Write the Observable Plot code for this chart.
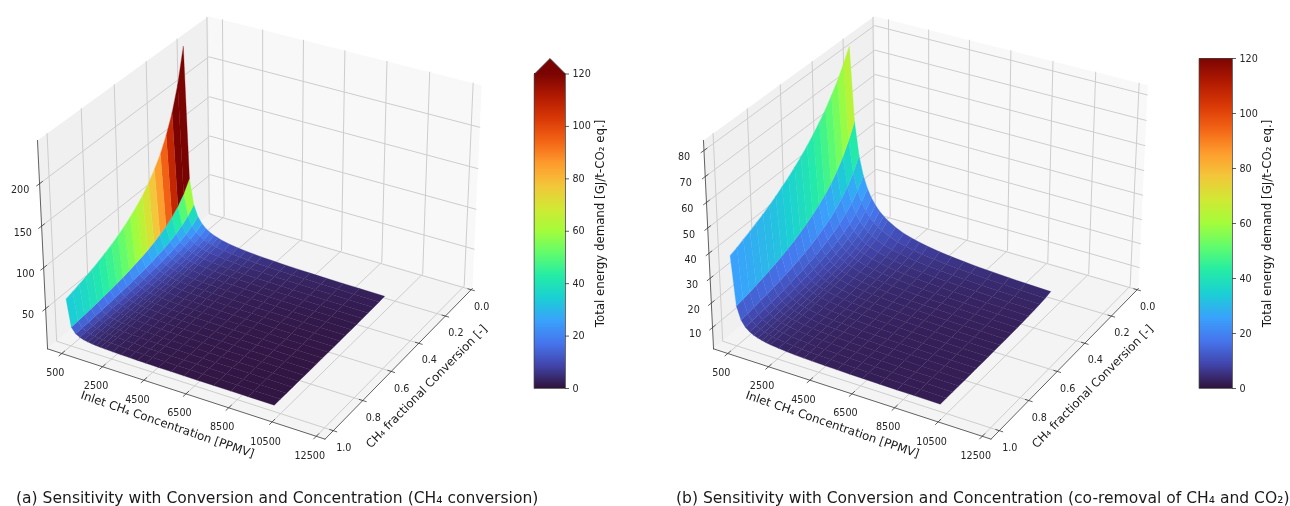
<!DOCTYPE html>
<html><head><meta charset="utf-8">
<script src="https://cdn.jsdelivr.net/npm/d3@7"></script>
<script src="https://cdn.jsdelivr.net/npm/@observablehq/plot@0.6"></script>
<style>html,body{margin:0;padding:0;background:#fff}svg{display:block;filter:blur(.35px)}</style>
</head><body><div id="c"></div>
<script>
const concentrations=[100,302,504,706,908,1110,1312,1514,1716,1918,2322,2726,3130,3534,3938,4544,5150,5756,6362,7170,7978,8786,10000];
const conversions=[.2,.241,.281,.322,.362,.403,.443,.484,.524,.565,.605,.646,.686,.727,.767,.808,.848,.889,.929,.97];
const zA=[
[243,80.5,48.2,34.4,26.8,21.9,18.5,16.1,14.2,12.7,10.5,8.92,7.77,6.88,6.17,5.35,4.72,4.22,3.82,3.39,3.05,2.77,2.43],
[202,66.8,40,28.6,22.2,18.2,15.4,13.3,11.8,10.5,8.68,7.4,6.44,5.7,5.12,4.44,3.92,3.5,3.17,2.81,2.53,2.29,2.02],
[173,57.3,34.3,24.5,19,15.6,13.2,11.4,10.1,9.02,7.45,6.35,5.53,4.89,4.39,3.81,3.36,3,2.72,2.41,2.17,1.97,1.73],
[151,50,30,21.4,16.6,13.6,11.5,9.97,8.8,7.87,6.5,5.54,4.82,4.27,3.83,3.32,2.93,2.62,2.37,2.11,1.89,1.72,1.51],
[134,44.4,26.6,19,14.8,12.1,10.2,8.87,7.82,7,5.78,4.92,4.29,3.8,3.41,2.96,2.61,2.33,2.11,1.87,1.68,1.53,1.34],
[121,39.9,23.9,17.1,13.3,10.9,9.19,7.96,7.03,6.29,5.19,4.42,3.85,3.41,3.06,2.65,2.34,2.09,1.9,1.68,1.51,1.37,1.21],
[110,36.3,21.8,15.5,12.1,9.88,8.36,7.24,6.39,5.72,4.72,4.02,3.51,3.1,2.79,2.41,2.13,1.9,1.72,1.53,1.37,1.25,1.1],
[100,33.2,19.9,14.2,11.1,9.05,7.65,6.63,5.85,5.24,4.32,3.68,3.21,2.84,2.55,2.21,1.95,1.74,1.58,1.4,1.26,1.14,1],
[92.7,30.7,18.4,13.1,10.2,8.35,7.07,6.12,5.4,4.83,3.99,3.4,2.96,2.62,2.35,2.04,1.8,1.61,1.46,1.29,1.16,1.06,.93],
[86,28.5,17.1,12.2,9.47,7.75,6.56,5.68,5.01,4.49,3.7,3.16,2.75,2.43,2.18,1.89,1.67,1.49,1.35,1.2,1.08,.98,.86],
[80.3,26.6,15.9,11.4,8.85,7.24,6.12,5.31,4.68,4.19,3.46,2.95,2.57,2.27,2.04,1.77,1.56,1.4,1.26,1.12,1.01,.91,.8],
[75.2,24.9,14.9,10.7,8.28,6.78,5.73,4.97,4.38,3.92,3.24,2.76,2.4,2.13,1.91,1.66,1.46,1.31,1.18,1.05,.94,.86,.75],
[70.9,23.5,14.1,10,7.8,6.38,5.4,4.68,4.13,3.69,3.05,2.6,2.26,2,1.8,1.56,1.38,1.23,1.11,.99,.89,.81,.71],
[66.9,22.1,13.3,9.47,7.36,6.02,5.1,4.42,3.9,3.49,2.88,2.45,2.14,1.89,1.7,1.47,1.3,1.16,1.05,.93,.84,.76,.67],
[63.4,21,12.6,8.98,6.98,5.71,4.83,4.19,3.69,3.3,2.73,2.33,2.03,1.79,1.61,1.4,1.23,1.1,1,.88,.79,.72,.63],
[60.2,19.9,11.9,8.52,6.63,5.42,4.59,3.97,3.51,3.14,2.59,2.21,1.92,1.7,1.53,1.32,1.17,1.04,.95,.84,.75,.68,.6],
[57.3,19,11.4,8.12,6.31,5.16,4.37,3.78,3.34,2.99,2.47,2.1,1.83,1.62,1.45,1.26,1.11,1,.9,.8,.72,.65,.57],
[54.7,18.1,10.8,7.74,6.02,4.93,4.17,3.61,3.19,2.85,2.35,2.01,1.75,1.55,1.39,1.2,1.06,.95,.86,.76,.69,.62,.55],
[52.3,17.3,10.4,7.41,5.76,4.71,3.99,3.45,3.05,2.73,2.25,1.92,1.67,1.48,1.33,1.15,1.02,.91,.82,.73,.66,.6,.52],
[50.1,16.6,9.94,7.1,5.52,4.51,3.82,3.31,2.92,2.61,2.16,1.84,1.6,1.42,1.27,1.1,.97,.87,.79,.7,.63,.57,.5]];
const zB=[
[81.5,51.5,37.8,30,25,21.4,18.8,16.8,15.2,13.9,11.9,10.4,9.35,8.49,7.79,6.97,6.33,5.82,5.41,4.96,4.6,4.3,3.95],
[76.2,45.6,32.7,25.6,21.2,18.1,15.8,14.1,12.8,11.7,10,8.79,7.88,7.17,6.59,5.92,5.39,4.97,4.64,4.27,3.98,3.74,3.44],
[71.4,40.8,28.8,22.4,18.4,15.7,13.7,12.2,11,10.1,8.65,7.62,6.85,6.24,5.75,5.18,4.74,4.39,4.1,3.79,3.54,3.34,3.1],
[67.3,37,25.8,19.9,16.3,13.9,12.1,10.8,9.78,8.94,7.69,6.79,6.11,5.58,5.16,4.66,4.27,3.97,3.72,3.45,3.24,3.06,2.85],
[63.6,33.8,23.3,17.9,14.7,12.5,10.9,9.72,8.79,8.05,6.93,6.13,5.53,5.06,4.69,4.25,3.91,3.64,3.42,3.19,3,2.84,2.66],
[60.4,31.2,21.3,16.4,13.4,11.4,9.94,8.86,8.03,7.35,6.35,5.63,5.09,4.67,4.33,3.94,3.63,3.39,3.2,2.99,2.82,2.68,2.51],
[57.4,29,19.7,15.1,12.3,10.5,9.15,8.17,7.4,6.79,5.87,5.22,4.73,4.35,4.04,3.68,3.41,3.19,3.01,2.82,2.67,2.55,2.4],
[54.7,27.1,18.3,14,11.4,9.69,8.48,7.58,6.87,6.31,5.47,4.87,4.42,4.08,3.8,3.47,3.22,3.02,2.86,2.69,2.55,2.43,2.3],
[52.3,25.4,17.1,13,10.6,9.05,7.93,7.09,6.44,5.92,5.14,4.59,4.18,3.85,3.6,3.3,3.07,2.88,2.73,2.57,2.45,2.34,2.22],
[50.1,23.9,16,12.2,9.97,8.49,7.45,6.66,6.06,5.58,4.86,4.34,3.96,3.66,3.42,3.15,2.93,2.76,2.62,2.48,2.36,2.26,2.15],
[48,22.6,15.1,11.5,9.41,8.02,7.04,6.31,5.74,5.29,4.61,4.14,3.78,3.5,3.28,3.02,2.82,2.66,2.53,2.39,2.28,2.19,2.09],
[46.2,21.5,14.3,10.9,8.91,7.6,6.68,5.99,5.46,5.03,4.4,3.95,3.62,3.36,3.15,2.91,2.72,2.57,2.45,2.32,2.22,2.14,2.04],
[44.4,20.4,13.6,10.4,8.46,7.23,6.36,5.71,5.21,4.81,4.21,3.79,3.48,3.23,3.04,2.81,2.63,2.49,2.38,2.26,2.16,2.08,1.99],
[42.8,19.5,12.9,9.87,8.07,6.9,6.08,5.46,4.99,4.61,4.05,3.65,3.35,3.12,2.94,2.72,2.56,2.42,2.32,2.2,2.11,2.04,1.95],
[41.3,18.6,12.4,9.42,7.72,6.6,5.82,5.24,4.79,4.43,3.9,3.52,3.24,3.02,2.85,2.64,2.49,2.36,2.26,2.15,2.07,2,1.91],
[40,17.9,11.8,9.03,7.4,6.34,5.59,5.04,4.61,4.27,3.77,3.41,3.14,2.93,2.77,2.57,2.43,2.31,2.21,2.11,2.03,1.96,1.88],
[38.7,17.2,11.4,8.67,7.12,6.1,5.39,4.86,4.45,4.13,3.65,3.31,3.05,2.85,2.7,2.51,2.37,2.26,2.17,2.07,1.99,1.93,1.85],
[37.5,16.5,10.9,8.34,6.85,5.88,5.2,4.7,4.31,4,3.54,3.21,2.97,2.78,2.63,2.45,2.32,2.21,2.13,2.03,1.96,1.9,1.83],
[36.3,15.9,10.5,8.05,6.61,5.68,5.03,4.55,4.18,3.88,3.44,3.13,2.89,2.71,2.57,2.4,2.27,2.17,2.09,2,1.93,1.87,1.8],
[35.3,15.4,10.2,7.77,6.39,5.5,4.87,4.41,4.05,3.77,3.35,3.05,2.83,2.65,2.52,2.36,2.23,2.13,2.06,1.97,1.9,1.85,1.78]];
const xTicks=[500,2500,4500,6500,8500,10500,12500];
const yTicks=[0,0.2,0.4,0.6,0.8,1.0];
const zTicksA=[50,100,150,200];
const zTicksB=[10,20,30,40,50,60,70,80];
const cbTicks=[0,20,40,60,80,100,120];
const turbo=["#30123b","#4145ab","#4675ed","#39a2fc","#1bcfd4","#24eca6","#61fc6c","#a4fc3b","#d1e834","#f3c63a","#fe9b2d","#f36315","#d93806","#b11901","#7a0402"];
const xLim=[-207,12893], yLim=[1.055,-0.01];
const font="DejaVu Sans";
const cam=(()=>{const e=30*Math.PI/180,a=-60*Math.PI/180,n=Math.hypot(4,4,3),f=1.8294640721620434*25/24/n;
 const b=[4*f,4*f,3*f],w=[Math.cos(e)*Math.cos(a),Math.cos(e)*Math.sin(a),Math.sin(e)];
 const u=[-w[1],w[0],0].map(v=>v/Math.hypot(w[0],w[1]));
 const v=[w[1]*u[2]-w[2]*u[1],w[2]*u[0]-w[0]*u[2],w[0]*u[1]-w[1]*u[0]];
 return {b,u,v,w};})();
function proj(p,uu,vv,ww){const d=[(uu-.5)*cam.b[0],(vv-.5)*cam.b[1],(ww-.5)*cam.b[2]];
 const dot=(a,b)=>a[0]*b[0]+a[1]*b[1]+a[2]*b[2];const s=10/(10-dot(d,cam.w));
 return {x:p.tx+267*dot(d,cam.u)*s,y:p.ty-266*dot(d,cam.v)*s,depth:dot(d,cam.w)};}
function panel(id,tx,zLim,zTicks,Z){
 const p={tx,ty:217};
 const U=c=>(c-xLim[0])/(xLim[1]-xLim[0]),V=x=>(x-yLim[0])/(yLim[1]-yLim[0]),W=z=>(z-zLim[0])/(zLim[1]-zLim[0]);
 const P=(a,b,c)=>proj(p,a,b,c);
 const panes=[],grid=[],axes=[],labels=[],facets=[];
 const poly=(arr,name,pts,extra)=>pts.forEach(q=>arr.push({...P(...q),g:id+name,...extra}));
 poly(panes,"floor",[[0,0,0],[1,0,0],[1,1,0],[0,1,0]],{c:"#f4f4f4"});
 poly(panes,"left",[[0,0,0],[0,1,0],[0,1,1],[0,0,1]],{c:"#f0f0f0"});
 poly(panes,"back",[[0,1,0],[1,1,0],[1,1,1],[0,1,1]],{c:"#f8f8f8"});
 xTicks.forEach(t=>{const u=U(t);poly(grid,"gx"+t,[[u,0,0],[u,1,0],[u,1,1]]);
  poly(axes,"tx"+t,[[u,-.016,0],[u,.016,0]]);const q=P(u,0,0);labels.push({x:q.x-6.5,y:q.y+19.5,t:String(t)});});
 yTicks.forEach(t=>{const v=V(t);poly(grid,"gy"+t,[[1,v,0],[0,v,0],[0,v,1]]);
  poly(axes,"ty"+t,[[1-.012,v,0],[1+.012,v,0]]);const q=P(1,v,0);labels.push({x:q.x+10.5,y:q.y+17,t:t.toFixed(1)});});
 zTicks.forEach(t=>{const w=W(t);poly(grid,"gz"+t,[[0,0,w],[0,1,w],[1,1,w]]);
  poly(axes,"tz"+t,[[0,-.016,w],[0,.016,w]]);const q=P(0,0,w);labels.push({x:q.x-17-3*w,y:q.y+6.5,t:String(t)});});
 poly(axes,"ex",[[0,0,0],[1,0,0]]);poly(axes,"ey",[[1,0,0],[1,1,0]]);poly(axes,"ez",[[0,0,0],[0,0,1]]);
 const quads=[];
 for(let i=0;i<conversions.length-1;i++)for(let j=0;j<concentrations.length-1;j++){
  const cs=[[i,j],[i,j+1],[i+1,j+1],[i+1,j]].map(([r,c])=>({...P(U(concentrations[c]),V(conversions[r]),W(Z[r][c])),z:Z[r][c]}));
  quads.push({cs,d:d3.mean(cs,q=>q.depth),m:d3.mean(cs,q=>q.z),g:id+"f"+i+"_"+j});}
 quads.sort((a,b)=>a.d-b.d);
 quads.forEach(q=>q.cs.forEach(c=>facets.push({x:c.x,y:c.y,g:q.g,m:q.m})));
 return {panes,grid,axes,labels,facets};
}
const A=panel("a",263.4,[0,250],zTicksA,zA),B=panel("b",929.4,[1.2,83.8],zTicksB,zB);
function colorbar(x1,x2,yTop,yBot,arrow){
 const yv=v=>yBot-(yBot-yTop)*v/120;
 const strips=d3.range(Math.floor(yTop),Math.ceil(yBot)).map(y=>({x1,x2,y1:y,y2:y+1,v:(yBot-y-.5)/(yBot-yTop)*120}));
 const outline=[[x1,yBot],[x2,yBot],[x2,yTop]];if(arrow)outline.push([(x1+x2)/2,yTop-15.5]);outline.push([x1,yTop]);
 return {strips,outline:outline.map(([x,y])=>({x,y})),arrow:arrow?[[x1,yTop],[x2,yTop],[(x1+x2)/2,yTop-15.5]].map(([x,y])=>({x,y})):[],
  ticks:cbTicks.map(t=>({x1:x2,x2:x2+4,y:yv(t),t:String(t)}))};
}
const cA=colorbar(534,565,73.5,388,true),cB=colorbar(1199,1232,58,388,false);
const panelMarks=o=>[
 Plot.line(o.panes,{x:"x",y:"y",z:"g",fill:"c",curve:"linear-closed"}),
 Plot.line(o.grid,{x:"x",y:"y",z:"g",stroke:"#cdcdcd",strokeWidth:1}),
 Plot.line(o.axes,{x:"x",y:"y",z:"g",stroke:"#3a3a3a",strokeWidth:.8}),
 Plot.line(o.facets,{x:"x",y:"y",z:"g",fill:"m",stroke:"m",strokeWidth:.3,curve:"linear-closed"}),
 Plot.text(o.labels,{x:"x",y:"y",text:"t",fontSize:9.6,fill:"#262626",fontFamily:font})];
const cbMarks=(c,x)=>[
 Plot.rect(c.strips,{x1:"x1",x2:"x2",y1:"y1",y2:"y2",fill:"v",shapeRendering:"crispEdges"}),
 ...(c.arrow.length?[Plot.line(c.arrow,{x:"x",y:"y",fill:turbo[14],curve:"linear-closed"})]:[]),
 Plot.line(c.outline,{x:"x",y:"y",stroke:"#444",strokeWidth:.8,curve:"linear-closed"}),
 Plot.ruleY(c.ticks,{x1:"x1",x2:"x2",y:"y",stroke:"#333",strokeWidth:.8}),
 Plot.text(c.ticks,{x:d=>d.x2+3,y:"y",text:"t",textAnchor:"start",fontSize:9.6,fill:"#262626",fontFamily:font}),
 Plot.text(["Total energy demand [GJ/t-CO₂ eq.]"],{x:()=>x,y:()=>223,text:d=>d,rotate:-90,fontSize:11.8,fill:"#1a1a1a",fontFamily:font})];
const txt=(s,x,y,r,fs,anchor)=>Plot.text([s],{x:()=>x,y:()=>y,text:d=>d,rotate:r,fontSize:fs,fill:"#1a1a1a",fontFamily:font,textAnchor:anchor||"middle"});
const chart=Plot.plot({width:1290,height:506,margin:0,
 x:{type:"identity",axis:null},y:{type:"identity",axis:null},
 color:{type:"linear",domain:turbo.map((_,i)=>i*120/14),range:turbo,clamp:true},
 marks:[...panelMarks(A),...panelMarks(B),...cbMarks(cA,600),...cbMarks(cB,1267),
  txt("Inlet CH₄ Concentration [PPMV]",167,424,19,11.7),txt("CH₄ fractional Conversion [-]",426,386,-45.5,11.7),
  txt("Inlet CH₄ Concentration [PPMV]",832,424,19,11.7),txt("CH₄ fractional Conversion [-]",1092,386,-45.5,11.7),
  txt("(a) Sensitivity with Conversion and Concentration (CH₄ conversion)",15.5,498,0,15.55,"start"),
  txt("(b) Sensitivity with Conversion and Concentration (co-removal of CH₄ and CO₂)",675.5,498,0,15.55,"start")]});
document.getElementById("c").appendChild(chart);
</script></body></html>
